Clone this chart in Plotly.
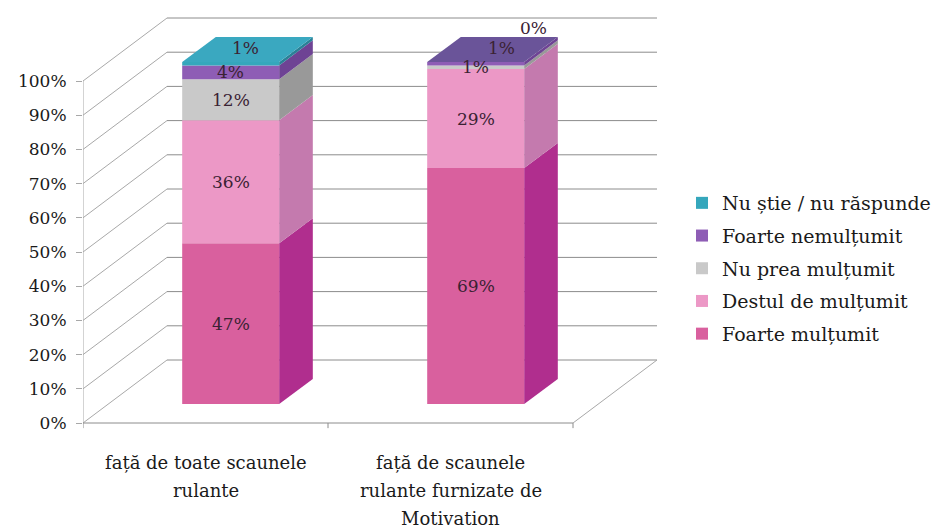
import plotly.graph_objects as go

# survey answers, share of respondents (%)
categories = [
    ["față de toate scaunele", "rulante"],
    ["față de scaunele", "rulante furnizate de", "Motivation"],
]
series_names = [
    "Foarte mulțumit",
    "Destul de mulțumit",
    "Nu prea mulțumit",
    "Foarte nemulțumit",
    "Nu știe / nu răspunde",
]
foarte_multumit = [47, 69]
destul_multumit = [36, 29]
nu_prea_multumit = [12, 1]
foarte_nemultumit = [4, 1]
nu_stie = [1, 0]
values = [foarte_multumit, destul_multumit, nu_prea_multumit, foarte_nemultumit, nu_stie]

y_ticks = [0, 10, 20, 30, 40, 50, 60, 70, 80, 90, 100]
y_ticktext = [f"{v}%" for v in y_ticks]

front_colors = ["#D9609E", "#EC98C6", "#C9C9C9", "#8E5DB5", "#35A7BC"]
side_colors = ["#B02E8E", "#C47AAE", "#999999", "#6E4394", "#2A8197"]
top_colors = ["#C9579A", "#E08DBB", "#BDBDBD", "#6A5499", "#3AA8C0"]

# the page body adds an 8px margin, so the layout is drawn 8px up-left
OFF = 8
W, H = 943, 531
ML, MT, MB = 83 - OFF, 10 - OFF, 103
MR = W - (662 - OFF)
PX_X = 245.0   # pixels per category
PX_Y = 3.42    # pixels per percent
X0, X1 = -0.5, 1.5
DX = 84 / PX_X  # full depth offset of the walls
DY = 63 / PX_Y
D_FRONT, D_DEPTH = 0.3, 0.4
BAR_W = 0.396
Y_ZERO_PX = 423 - OFF

plot_w = W - ML - MR
plot_h = H - MT - MB
x_range = [X0, X0 + plot_w / PX_X]
y_min = -((H - MB) - Y_ZERO_PX) / PX_Y
y_range = [y_min, y_min + plot_h / PX_Y]

fig = go.Figure()

base0 = D_FRONT * DY
cum = [base0] * len(categories)
label_pts = []
n = len(series_names)
for i, name in enumerate(series_names):
    xs = [j + D_FRONT * DX for j in range(len(categories))]
    fig.add_trace(
        go.Bar(
            x=xs,
            y=values[i],
            base=list(cum),
            width=BAR_W,
            name=name,
            legendgroup=name,
            legendrank=n - i,
            marker=dict(color=front_colors[i], line=dict(width=0)),
            hoverinfo="skip",
        )
    )
    for j, v in enumerate(values[i]):
        b, t = cum[j], cum[j] + v
        xr = xs[j] + BAR_W / 2
        if v > 0:
            fig.add_trace(
                go.Scatter(
                    x=[xr, xr + D_DEPTH * DX, xr + D_DEPTH * DX, xr, xr],
                    y=[b, b + D_DEPTH * DY, t + D_DEPTH * DY, t, b],
                    mode="lines",
                    fill="toself",
                    fillcolor=side_colors[i],
                    line=dict(width=0),
                    showlegend=False,
                    hoverinfo="skip",
                )
            )
        label_pts.append((i, j, xs[j], (b + t) / 2, v))
        cum[j] = t

# top faces take the colour of the highest non-empty segment
for j in range(len(categories)):
    top_i = max(i for i in range(n) if values[i][j] > 0)
    xl = j + D_FRONT * DX - BAR_W / 2
    xr = xl + BAR_W
    T = cum[j]
    fig.add_trace(
        go.Scatter(
            x=[xl, xr, xr + D_DEPTH * DX, xl + D_DEPTH * DX, xl],
            y=[T, T, T + D_DEPTH * DY, T + D_DEPTH * DY, T],
            mode="lines",
            fill="toself",
            fillcolor=top_colors[top_i],
            line=dict(width=0),
            showlegend=False,
            hoverinfo="skip",
        )
    )

# data labels; the crowded ones at the top are nudged like in the original
nudges = {(4, 0): (15, 16), (3, 1): (26, 16), (4, 1): (58, 34)}
for i, j, x, y, v in label_pts:
    dx, dy = nudges.get((i, j), (0, 0))
    fig.add_annotation(
        x=x, y=y, text=f"{v}%", showarrow=False, xshift=dx, yshift=dy,
        font=dict(family="DejaVu Serif", size=17, color="#3a2233"),
    )

# category labels under the floor, one annotation per line
for j, lines in enumerate(categories):
    for k, line in enumerate(lines):
        fig.add_annotation(
            x=j, y=0, text=line, showarrow=False, yanchor="middle",
            yshift=-(39 + 28 * k),
            font=dict(family="DejaVu Serif", size=18, color="#1a1a1a"),
        )

# walls, floor and gridlines
grid = "#8c8c8c"
side = "#a8a8a8"
shapes = []
for v in y_ticks:
    shapes.append(dict(type="line", x0=X0 + DX, y0=v + DY, x1=X1 + DX, y1=v + DY,
                       line=dict(color=grid, width=1)))
    shapes.append(dict(type="line", x0=X0, y0=v, x1=X0 + DX, y1=v + DY,
                       line=dict(color=side, width=1)))
shapes.append(dict(type="line", x0=X0, y0=0, x1=X0, y1=100, line=dict(color=side, width=1)))
shapes.append(dict(type="line", x0=X0, y0=0, x1=X1, y1=0, line=dict(color=grid, width=1)))
shapes.append(dict(type="line", x0=X1, y0=0, x1=X1 + DX, y1=DY, line=dict(color=side, width=1)))
for xt in [X0, 0.5, X1]:
    shapes.append(dict(type="line", x0=xt, y0=0, x1=xt, y1=-1.5, line=dict(color=grid, width=1)))
for s in shapes:
    s["layer"] = "below"

fig.update_layout(
    width=W,
    height=H,
    margin=dict(l=ML, r=MR, t=MT, b=MB, autoexpand=False),
    paper_bgcolor="white",
    plot_bgcolor="white",
    barmode="overlay",
    shapes=shapes,
    font=dict(family="DejaVu Serif", color="#1a1a1a"),
    legend=dict(
        traceorder="grouped",
        tracegroupgap=5,
        xref="container",
        yref="container",
        x=674 / W,
        y=1 - 176 / H,
        xanchor="left",
        yanchor="top",
        font=dict(family="DejaVu Serif", size=19, color="#1a1a1a"),
    ),
    showlegend=True,
)
fig.update_xaxes(
    range=x_range,
    showticklabels=False,
    showgrid=False,
    zeroline=False,
    showline=False,
    ticks="",
)
fig.update_yaxes(
    range=y_range,
    tickvals=y_ticks,
    ticktext=y_ticktext,
    tickfont=dict(family="DejaVu Serif", size=17, color="#1a1a1a"),
    showgrid=False,
    zeroline=False,
    showline=False,
    ticks="outside",
    ticklen=6,
    tickcolor=side,
    ticklabelstandoff=6,
)

fig.write_html("out.html")
